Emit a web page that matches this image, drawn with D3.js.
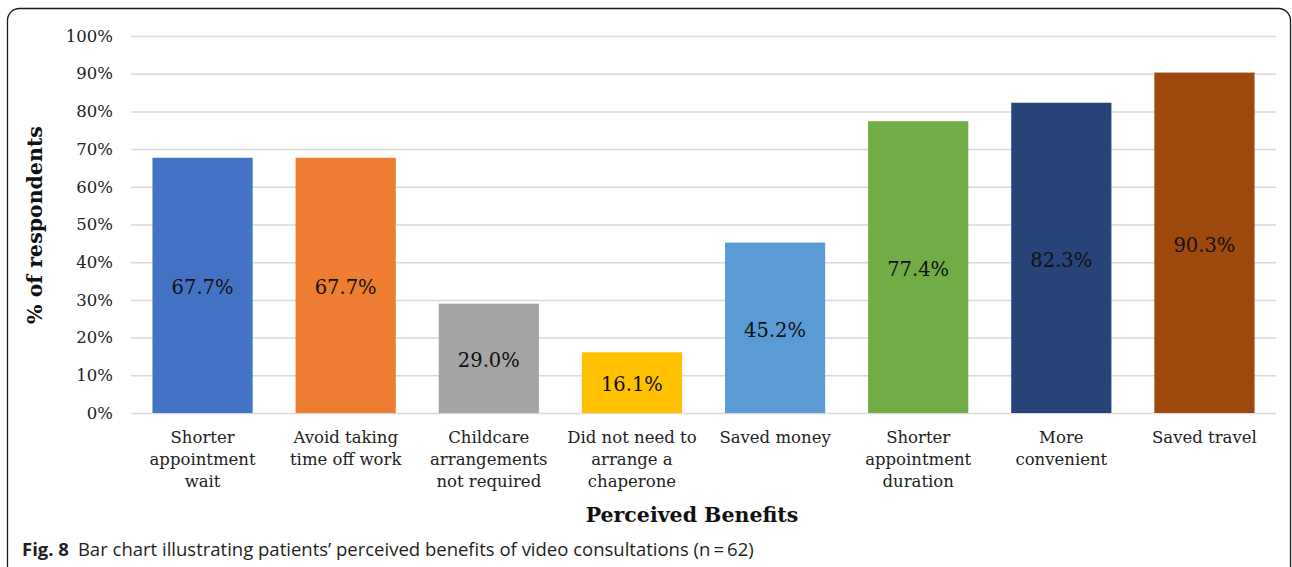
<!DOCTYPE html>
<html>
<head>
<meta charset="utf-8">
<script src="https://cdn.jsdelivr.net/npm/d3@7"></script>
<style>
  html, body { margin: 0; padding: 0; background: #fff; }
  svg { display: block; }
</style>
</head>
<body>
<svg id="chart" width="1292" height="567"></svg>
<script>
// Benefit categories (each label split into its wrapped lines)
const categories = [
  ["Shorter", "appointment", "wait"],
  ["Avoid taking", "time off work"],
  ["Childcare", "arrangements", "not required"],
  ["Did not need to", "arrange a", "chaperone"],
  ["Saved money"],
  ["Shorter", "appointment", "duration"],
  ["More", "convenient"],
  ["Saved travel"]
];
// Share of respondents (%)
const values = [67.7, 67.7, 29.0, 16.1, 45.2, 77.4, 82.3, 90.3];
const barColors = ["#4472C4", "#ED7D31", "#A5A5A5", "#FFC000", "#5B9BD5", "#70AD47", "#264478", "#9E480E"];
const yTicks = [0, 10, 20, 30, 40, 50, 60, 70, 80, 90, 100];

const svg = d3.select("#chart");
const serif = "'DejaVu Serif', 'Liberation Serif', serif";

// Rounded panel border
svg.append("rect")
  .attr("x", 7.5).attr("y", 8.5)
  .attr("width", 1283).attr("height", 572)
  .attr("rx", 12).attr("ry", 12)
  .attr("fill", "none").attr("stroke", "#1a1a1a").attr("stroke-width", 1.3);

const plot = { left: 131, right: 1276, top: 36, bottom: 413 };

const x = d3.scaleBand()
  .domain(d3.range(categories.length))
  .range([plot.left, plot.right])
  .paddingInner(0.3)
  .paddingOuter(0.15);

const y = d3.scaleLinear().domain([0, 100]).range([plot.bottom, plot.top]);

// Gridlines and y tick labels
const yAxis = d3.axisLeft(y)
  .tickValues(yTicks)
  .tickSize(-(plot.right - plot.left))
  .tickPadding(18)
  .tickFormat(d => d + "%");

const gy = svg.append("g")
  .attr("transform", `translate(${plot.left},0)`)
  .call(yAxis);
gy.select(".domain").remove();
gy.selectAll(".tick line").attr("stroke", "#d9d9d9").attr("stroke-width", 1.5);
gy.selectAll(".tick text")
  .attr("font-family", serif).attr("font-size", 16.5).attr("fill", "#222");

// Bars
svg.append("g").selectAll("rect")
  .data(values)
  .join("rect")
  .attr("x", (d, i) => x(i))
  .attr("y", d => y(d))
  .attr("width", x.bandwidth())
  .attr("height", d => y(0) - y(d))
  .attr("fill", (d, i) => barColors[i]);

// Value labels centred in each bar
svg.append("g").selectAll("text")
  .data(values)
  .join("text")
  .attr("x", (d, i) => x(i) + x.bandwidth() / 2)
  .attr("y", d => (y(d) + y(0)) / 2)
  .attr("dy", "0.45em")
  .attr("text-anchor", "middle")
  .attr("font-family", serif).attr("font-size", 19.5)
  .attr("fill", "#111")
  .text(d => d.toFixed(1) + "%");

// Category labels
const cat = svg.append("g").selectAll("text")
  .data(categories)
  .join("text")
  .attr("text-anchor", "middle")
  .attr("font-family", serif).attr("font-size", 16.5).attr("fill", "#222");
cat.selectAll("tspan")
  .data((d, i) => d.map(line => ({ line, i })))
  .join("tspan")
  .attr("x", d => x(d.i) + x.bandwidth() / 2)
  .attr("y", (d, j) => 443 + j * 22)
  .text(d => d.line);

// Axis titles
svg.append("text")
  .attr("x", 692).attr("y", 522)
  .attr("text-anchor", "middle")
  .attr("font-family", serif).attr("font-size", 20.5).attr("font-weight", "bold")
  .attr("fill", "#111")
  .text("Perceived Benefits");

svg.append("text")
  .attr("transform", "translate(42,225) rotate(-90)")
  .attr("text-anchor", "middle")
  .attr("font-family", serif).attr("font-size", 20.5).attr("font-weight", "bold")
  .attr("fill", "#111")
  .text("% of respondents");

// Figure caption
const cap = svg.append("text")
  .attr("x", 22).attr("y", 556)
  .attr("font-family", "'Open Sans', 'Noto Sans', sans-serif")
  .attr("font-size", 18.5).attr("fill", "#231f20");
cap.append("tspan").attr("font-weight", "bold").text("Fig. 8");
cap.append("tspan").attr("dx", 9)
  .text("Bar chart illustrating patients\u2019 perceived benefits of video consultations (n\u2009=\u200962)");
</script>
</body>
</html>
